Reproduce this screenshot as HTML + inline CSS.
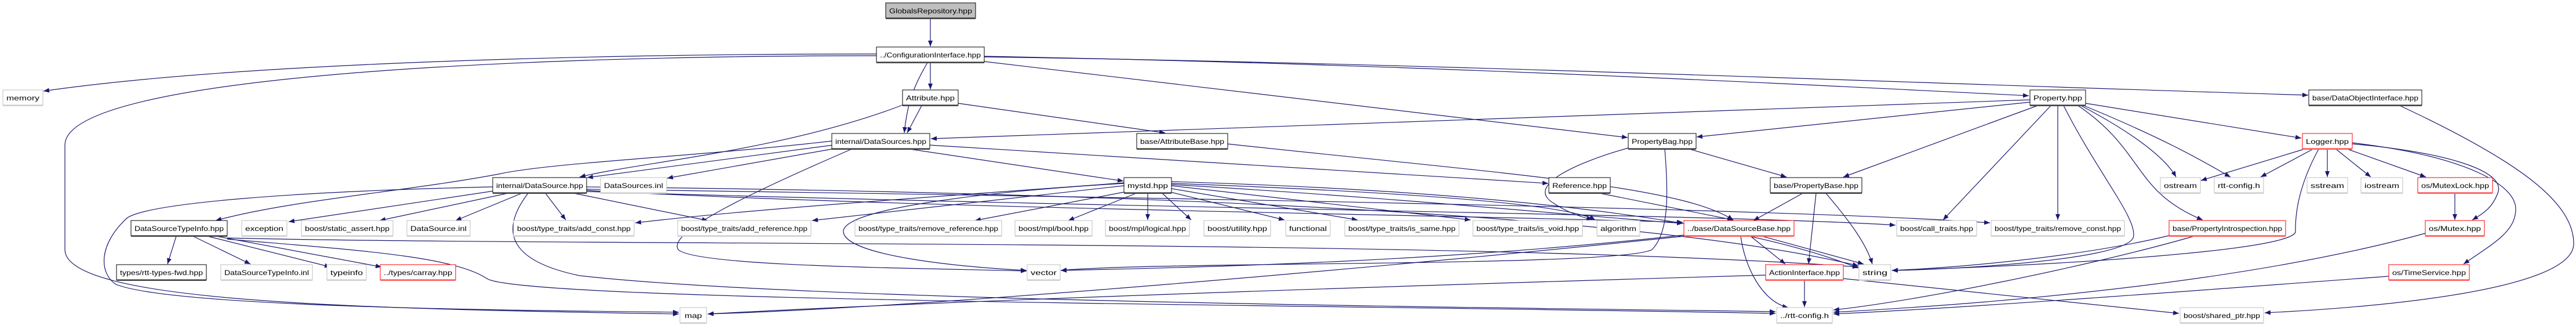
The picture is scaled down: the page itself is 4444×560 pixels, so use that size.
<!DOCTYPE html>
<html><head><meta charset="utf-8"><style>
html,body{margin:0;padding:0;background:#fff;}
svg{display:block;}
text{font-family:"Liberation Sans",sans-serif;font-size:12px;fill:#000;text-anchor:middle;}
.e{fill:none;stroke:#191970;stroke-width:1.2;marker-end:url(#a);}
rect{stroke-width:1;fill:#fff;}
.b{stroke:#000;} .g{stroke:#bfbfbf;} .r{stroke:#ff0000;} .f{stroke:#000;fill:#bfbfbf;}
.sb{stroke:#444;stroke-width:2;} .sg{stroke:#d0d0d0;stroke-width:2;} .sr{stroke:#ff6060;stroke-width:2;}
</style></head><body>
<svg width="4444" height="560" viewBox="0 0 4444 560" xmlns="http://www.w3.org/2000/svg">
<defs><marker id="a" markerUnits="userSpaceOnUse" markerWidth="11" markerHeight="8" refX="10" refY="4" orient="auto"><path d="M0,0 L10,4 L0,8 z" fill="#191970"/></marker></defs>
<g>
<path class="e" d="M1605,32 L1605,80"/>
<path class="e" d="M1512,93 C1000,93 400,110 75,157"/>
<path class="e" d="M1512,96 C900,96 112,130 112,250 L112,430 C112,520 600,532 1171,541"/>
<path class="e" d="M1605,108 L1605,154"/>
<path class="e" d="M1600,108 C1575,150 1565,180 1560,229"/>
<path class="e" d="M1698,106 L2808,237"/>
<path class="e" d="M1698,97 C2400,110 3000,140 3500,165"/>
<path class="e" d="M1698,98 C2500,110 3200,140 3982,164"/>
<path class="e" d="M1590,182 L1565,229"/>
<path class="e" d="M1557,181 C1350,260 1100,280 1000,305"/>
<path class="e" d="M1653,178 L2010,229"/>
<path class="e" d="M3502,172 L1606,239"/>
<path class="e" d="M3502,176 L2927,236"/>
<path class="e" d="M3515,182 L3180,305"/>
<path class="e" d="M3538,182 L3352,379"/>
<path class="e" d="M3550,182 L3550,379"/>
<path class="e" d="M3560,182 C3620,300 3690,380 3680,410 C3660,450 3350,465 3264,466"/>
<path class="e" d="M3585,182 C3700,260 3680,330 3800,379"/>
<path class="e" d="M3590,182 C3700,240 3740,280 3754,305"/>
<path class="e" d="M3595,182 C3760,250 3820,290 3848,305"/>
<path class="e" d="M3598,178 L3970,238"/>
<path class="e" d="M4140,182 C4350,280 4440,350 4440,420 C4440,500 4100,530 3907,539"/>
<path class="e" d="M1437,250 L1013,306"/>
<path class="e" d="M1440,256 L1151,307"/>
<path class="e" d="M1435,243 C1200,270 950,280 860,300 C700,330 500,345 372,380"/>
<path class="e" d="M1469,257 C1300,330 1150,400 1170,430 C1200,460 1600,462 1771,467"/>
<path class="e" d="M1570,257 L1938,312"/>
<path class="e" d="M1604,250 L2671,316"/>
<path class="e" d="M2118,248 C2600,300 2900,320 2990,379"/>
<path class="e" d="M2809,255 C2720,280 2630,320 2680,350 C2710,370 2735,375 2747,379"/>
<path class="e" d="M2872,257 C2878,330 2880,400 2850,430 C2800,460 2000,450 1830,466"/>
<path class="e" d="M2915,257 L3082,305"/>
<path class="e" d="M2760,333 L2990,379"/>
<path class="e" d="M3110,333 L3025,380"/>
<path class="e" d="M3133,333 L3120,455"/>
<path class="e" d="M3150,333 C3190,380 3220,420 3230,455"/>
<path class="e" d="M3975,257 L3797,311"/>
<path class="e" d="M3990,257 L3900,305"/>
<path class="e" d="M4015,257 L4015,305"/>
<path class="e" d="M4030,257 L4090,305"/>
<path class="e" d="M4050,257 L4185,305"/>
<path class="e" d="M4058,248 C4200,260 4320,290 4310,330 C4300,360 4280,370 4265,379"/>
<path class="e" d="M4058,246 C4260,270 4340,320 4340,360 C4340,400 4300,420 4250,455"/>
<path class="e" d="M4000,257 C3960,330 3960,380 3960,400 C3950,430 3600,455 3264,466"/>
<path class="e" d="M4235,333 L4235,379"/>
<path class="e" d="M4184,402 C3900,480 3500,520 3163,538"/>
<path class="e" d="M4121,476 C3800,500 3400,530 3163,541"/>
<path class="e" d="M3742,406 C3600,440 3400,460 3264,466"/>
<path class="e" d="M3785,407 C3600,460 3300,520 3163,534"/>
<path class="e" d="M3020,407 L3080,455"/>
<path class="e" d="M3040,407 L3215,455"/>
<path class="e" d="M3003,407 C3010,460 3040,520 3085,530"/>
<path class="e" d="M2905,405 C2500,450 2100,460 1830,466"/>
<path class="e" d="M2905,407 C2400,460 1600,530 1221,541"/>
<path class="e" d="M3113,482 L3113,529"/>
<path class="e" d="M3180,480 L3759,540"/>
<path class="e" d="M3046,474 C2500,490 1700,515 1221,541"/>
<path class="e" d="M1955,328 L1682,380"/>
<path class="e" d="M1960,333 L1843,380"/>
<path class="e" d="M1980,333 L1980,379"/>
<path class="e" d="M2005,333 L2055,379"/>
<path class="e" d="M2015,330 L2216,379"/>
<path class="e" d="M2021,325 L2342,379"/>
<path class="e" d="M2021,320 L2537,379"/>
<path class="e" d="M2021,316 C2400,330 2700,350 2752,379"/>
<path class="e" d="M1939,316 C1700,330 1450,360 1455,400 C1460,440 1650,460 1771,466"/>
<path class="e" d="M1939,315 C1600,340 1300,360 1096,384"/>
<path class="e" d="M1939,320 L1401,380"/>
<path class="e" d="M2021,313 C2600,330 3000,380 3206,462"/>
<path class="e" d="M2021,318 C2400,340 2700,370 2903,385"/>
<path class="e" d="M852,329 L498,382"/>
<path class="e" d="M876,333 L655,380"/>
<path class="e" d="M900,333 L786,380"/>
<path class="e" d="M941,333 L976,379"/>
<path class="e" d="M990,333 L1221,380"/>
<path class="e" d="M850,322 C500,330 260,350 220,375 C170,420 170,470 200,490 C300,530 900,535 1171,538"/>
<path class="e" d="M911,333 C860,400 880,450 1000,475 C1400,520 2600,530 3063,537"/>
<path class="e" d="M1012,322 C1800,330 2800,360 3206,458"/>
<path class="e" d="M1012,328 C1600,360 2500,370 2903,383"/>
<path class="e" d="M1012,330 C2000,360 3000,370 3270,388"/>
<path class="e" d="M1012,326 C2000,340 3100,360 3433,384"/>
<path class="e" d="M304,407 L289,455"/>
<path class="e" d="M333,407 L432,455"/>
<path class="e" d="M358,407 L570,460"/>
<path class="e" d="M373,407 L658,460"/>
<path class="e" d="M392,410 C1000,425 2500,410 3206,460"/>
<path class="e" d="M392,412 C600,430 780,440 840,480 C900,520 2300,525 3063,540"/>
</g>
<g>
<rect class="f" x="1528" y="5" width="155" height="26"/><line class="sb" x1="1528" y1="32" x2="1683" y2="32"/><text x="1605.5" y="23" textLength="143" lengthAdjust="spacingAndGlyphs">GlobalsRepository.hpp</text>
<rect class="b" x="1512" y="81" width="186" height="26"/><line class="sb" x1="1512" y1="108" x2="1698" y2="108"/><text x="1605" y="99" textLength="174" lengthAdjust="spacingAndGlyphs">../ConfigurationInterface.hpp</text>

<rect class="g" x="5" y="155" width="69" height="26"/><line class="sg" x1="5" y1="182" x2="74" y2="182"/><text x="39.5" y="173" textLength="57" lengthAdjust="spacingAndGlyphs">memory</text>
<rect class="b" x="1557" y="155" width="96" height="26"/><line class="sb" x1="1557" y1="182" x2="1653" y2="182"/><text x="1605" y="173" textLength="84" lengthAdjust="spacingAndGlyphs">Attribute.hpp</text>
<rect class="b" x="3502" y="155" width="96" height="26"/><line class="sb" x1="3502" y1="182" x2="3598" y2="182"/><text x="3550" y="173" textLength="84" lengthAdjust="spacingAndGlyphs">Property.hpp</text>
<rect class="b" x="3983" y="155" width="195" height="26"/><line class="sb" x1="3983" y1="182" x2="4178" y2="182"/><text x="4080.5" y="173" textLength="183" lengthAdjust="spacingAndGlyphs">base/DataObjectInterface.hpp</text>

<rect class="b" x="1435" y="230" width="169" height="26"/><line class="sb" x1="1435" y1="257" x2="1604" y2="257"/><text x="1519.5" y="248" textLength="157" lengthAdjust="spacingAndGlyphs">internal/DataSources.hpp</text>
<rect class="b" x="1961" y="230" width="157" height="26"/><line class="sb" x1="1961" y1="257" x2="2118" y2="257"/><text x="2039.5" y="248" textLength="145" lengthAdjust="spacingAndGlyphs">base/AttributeBase.hpp</text>
<rect class="b" x="2809" y="230" width="117" height="26"/><line class="sb" x1="2809" y1="257" x2="2926" y2="257"/><text x="2867.5" y="248" textLength="105" lengthAdjust="spacingAndGlyphs">PropertyBag.hpp</text>
<rect class="r" x="3972" y="230" width="86" height="26"/><line class="sr" x1="3972" y1="257" x2="4058" y2="257"/><text x="4015" y="248" textLength="74" lengthAdjust="spacingAndGlyphs">Logger.hpp</text>

<rect class="b" x="850" y="306" width="162" height="26"/><line class="sb" x1="850" y1="333" x2="1012" y2="333"/><text x="931" y="324" textLength="150" lengthAdjust="spacingAndGlyphs">internal/DataSource.hpp</text>
<rect class="g" x="1036" y="306" width="114" height="26"/><line class="sg" x1="1036" y1="333" x2="1150" y2="333"/><text x="1093" y="324" textLength="102" lengthAdjust="spacingAndGlyphs">DataSources.inl</text>
<rect class="b" x="1939" y="306" width="82" height="26"/><line class="sb" x1="1939" y1="333" x2="2021" y2="333"/><text x="1980" y="324" textLength="70" lengthAdjust="spacingAndGlyphs">mystd.hpp</text>
<rect class="b" x="2672" y="306" width="106" height="26"/><line class="sb" x1="2672" y1="333" x2="2778" y2="333"/><text x="2725" y="324" textLength="94" lengthAdjust="spacingAndGlyphs">Reference.hpp</text>
<rect class="b" x="3054" y="306" width="158" height="26"/><line class="sb" x1="3054" y1="333" x2="3212" y2="333"/><text x="3133" y="324" textLength="146" lengthAdjust="spacingAndGlyphs">base/PropertyBase.hpp</text>
<rect class="g" x="3727" y="306" width="69" height="26"/><line class="sg" x1="3727" y1="333" x2="3796" y2="333"/><text x="3761.5" y="324" textLength="57" lengthAdjust="spacingAndGlyphs">ostream</text>
<rect class="g" x="3820" y="306" width="85" height="26"/><line class="sg" x1="3820" y1="333" x2="3905" y2="333"/><text x="3862.5" y="324" textLength="73" lengthAdjust="spacingAndGlyphs">rtt-config.h</text>
<rect class="g" x="3980" y="306" width="70" height="26"/><line class="sg" x1="3980" y1="333" x2="4050" y2="333"/><text x="4015" y="324" textLength="58" lengthAdjust="spacingAndGlyphs">sstream</text>
<rect class="g" x="4073" y="306" width="72" height="26"/><line class="sg" x1="4073" y1="333" x2="4145" y2="333"/><text x="4109" y="324" textLength="60" lengthAdjust="spacingAndGlyphs">iostream</text>
<rect class="r" x="4171" y="306" width="129" height="26"/><line class="sr" x1="4171" y1="333" x2="4300" y2="333"/><text x="4235.5" y="324" textLength="117" lengthAdjust="spacingAndGlyphs">os/MutexLock.hpp</text>

<rect class="b" x="226" y="380" width="166" height="26"/><line class="sb" x1="226" y1="407" x2="392" y2="407"/><text x="309" y="398" textLength="154" lengthAdjust="spacingAndGlyphs">DataSourceTypeInfo.hpp</text>
<rect class="g" x="417" y="380" width="78" height="26"/><line class="sg" x1="417" y1="407" x2="495" y2="407"/><text x="456" y="398" textLength="66" lengthAdjust="spacingAndGlyphs">exception</text>
<rect class="g" x="520" y="380" width="158" height="26"/><line class="sg" x1="520" y1="407" x2="678" y2="407"/><text x="599" y="398" textLength="146" lengthAdjust="spacingAndGlyphs">boost/static_assert.hpp</text>
<rect class="g" x="702" y="380" width="109" height="26"/><line class="sg" x1="702" y1="407" x2="811" y2="407"/><text x="756.5" y="398" textLength="97" lengthAdjust="spacingAndGlyphs">DataSource.inl</text>
<rect class="g" x="886" y="380" width="208" height="26"/><line class="sg" x1="886" y1="407" x2="1094" y2="407"/><text x="990" y="398" textLength="196" lengthAdjust="spacingAndGlyphs">boost/type_traits/add_const.hpp</text>
<rect class="g" x="1169" y="380" width="230" height="26"/><line class="sg" x1="1169" y1="407" x2="1399" y2="407"/><text x="1284" y="398" textLength="218" lengthAdjust="spacingAndGlyphs">boost/type_traits/add_reference.hpp</text>
<rect class="g" x="1475" y="380" width="253" height="26"/><line class="sg" x1="1475" y1="407" x2="1728" y2="407"/><text x="1601.5" y="398" textLength="241" lengthAdjust="spacingAndGlyphs">boost/type_traits/remove_reference.hpp</text>
<rect class="g" x="1751" y="380" width="133" height="26"/><line class="sg" x1="1751" y1="407" x2="1884" y2="407"/><text x="1817.5" y="398" textLength="121" lengthAdjust="spacingAndGlyphs">boost/mpl/bool.hpp</text>
<rect class="g" x="1907" y="380" width="145" height="26"/><line class="sg" x1="1907" y1="407" x2="2052" y2="407"/><text x="1979.5" y="398" textLength="133" lengthAdjust="spacingAndGlyphs">boost/mpl/logical.hpp</text>
<rect class="g" x="2077" y="380" width="115" height="26"/><line class="sg" x1="2077" y1="407" x2="2192" y2="407"/><text x="2134.5" y="398" textLength="103" lengthAdjust="spacingAndGlyphs">boost/utility.hpp</text>
<rect class="g" x="2218" y="380" width="77" height="26"/><line class="sg" x1="2218" y1="407" x2="2295" y2="407"/><text x="2256.5" y="398" textLength="65" lengthAdjust="spacingAndGlyphs">functional</text>
<rect class="g" x="2320" y="380" width="197" height="26"/><line class="sg" x1="2320" y1="407" x2="2517" y2="407"/><text x="2418.5" y="398" textLength="185" lengthAdjust="spacingAndGlyphs">boost/type_traits/is_same.hpp</text>
<rect class="g" x="2541" y="380" width="189" height="26"/><line class="sg" x1="2541" y1="407" x2="2730" y2="407"/><text x="2635.5" y="398" textLength="177" lengthAdjust="spacingAndGlyphs">boost/type_traits/is_void.hpp</text>
<rect class="g" x="2755" y="380" width="74" height="26"/><line class="sg" x1="2755" y1="407" x2="2829" y2="407"/><text x="2792" y="398" textLength="62" lengthAdjust="spacingAndGlyphs">algorithm</text>
<rect class="r" x="2905" y="380" width="190" height="26"/><line class="sr" x1="2905" y1="407" x2="3095" y2="407"/><text x="3000" y="398" textLength="178" lengthAdjust="spacingAndGlyphs">../base/DataSourceBase.hpp</text>
<rect class="g" x="3272" y="380" width="138" height="26"/><line class="sg" x1="3272" y1="407" x2="3410" y2="407"/><text x="3341" y="398" textLength="126" lengthAdjust="spacingAndGlyphs">boost/call_traits.hpp</text>
<rect class="g" x="3435" y="380" width="230" height="26"/><line class="sg" x1="3435" y1="407" x2="3665" y2="407"/><text x="3550" y="398" textLength="218" lengthAdjust="spacingAndGlyphs">boost/type_traits/remove_const.hpp</text>
<rect class="r" x="3742" y="380" width="201" height="26"/><line class="sr" x1="3742" y1="407" x2="3943" y2="407"/><text x="3842.5" y="398" textLength="189" lengthAdjust="spacingAndGlyphs">base/PropertyIntrospection.hpp</text>
<rect class="r" x="4184" y="380" width="102" height="26"/><line class="sr" x1="4184" y1="407" x2="4286" y2="407"/><text x="4235" y="398" textLength="90" lengthAdjust="spacingAndGlyphs">os/Mutex.hpp</text>

<rect class="b" x="201" y="456" width="155" height="26"/><line class="sb" x1="201" y1="483" x2="356" y2="483"/><text x="278.5" y="474" textLength="143" lengthAdjust="spacingAndGlyphs">types/rtt-types-fwd.hpp</text>
<rect class="g" x="381" y="456" width="158" height="26"/><line class="sg" x1="381" y1="483" x2="539" y2="483"/><text x="460" y="474" textLength="146" lengthAdjust="spacingAndGlyphs">DataSourceTypeInfo.inl</text>
<rect class="g" x="564" y="456" width="68" height="26"/><line class="sg" x1="564" y1="483" x2="632" y2="483"/><text x="598" y="474" textLength="56" lengthAdjust="spacingAndGlyphs">typeinfo</text>
<rect class="r" x="656" y="456" width="130" height="26"/><line class="sr" x1="656" y1="483" x2="786" y2="483"/><text x="721" y="474" textLength="118" lengthAdjust="spacingAndGlyphs">../types/carray.hpp</text>
<rect class="g" x="1772" y="456" width="57" height="26"/><line class="sg" x1="1772" y1="483" x2="1829" y2="483"/><text x="1800.5" y="474" textLength="45" lengthAdjust="spacingAndGlyphs">vector</text>
<rect class="r" x="3046" y="456" width="134" height="26"/><line class="sr" x1="3046" y1="483" x2="3180" y2="483"/><text x="3113" y="474" textLength="122" lengthAdjust="spacingAndGlyphs">ActionInterface.hpp</text>
<rect class="g" x="3207" y="456" width="55" height="26"/><line class="sg" x1="3207" y1="483" x2="3262" y2="483"/><text x="3234.5" y="474" textLength="43" lengthAdjust="spacingAndGlyphs">string</text>
<rect class="r" x="4121" y="456" width="139" height="26"/><line class="sr" x1="4121" y1="483" x2="4260" y2="483"/><text x="4190.5" y="474" textLength="127" lengthAdjust="spacingAndGlyphs">os/TimeService.hpp</text>

<rect class="g" x="1173" y="530" width="46" height="26"/><line class="sg" x1="1173" y1="557" x2="1219" y2="557"/><text x="1196" y="548" textLength="30" lengthAdjust="spacingAndGlyphs">map</text>
<rect class="g" x="3065" y="530" width="96" height="26"/><line class="sg" x1="3065" y1="557" x2="3161" y2="557"/><text x="3113" y="548" textLength="84" lengthAdjust="spacingAndGlyphs">../rtt-config.h</text>
<rect class="g" x="3761" y="530" width="144" height="26"/><line class="sg" x1="3761" y1="557" x2="3905" y2="557"/><text x="3833" y="548" textLength="132" lengthAdjust="spacingAndGlyphs">boost/shared_ptr.hpp</text>
</g>
</svg>
</body></html>
